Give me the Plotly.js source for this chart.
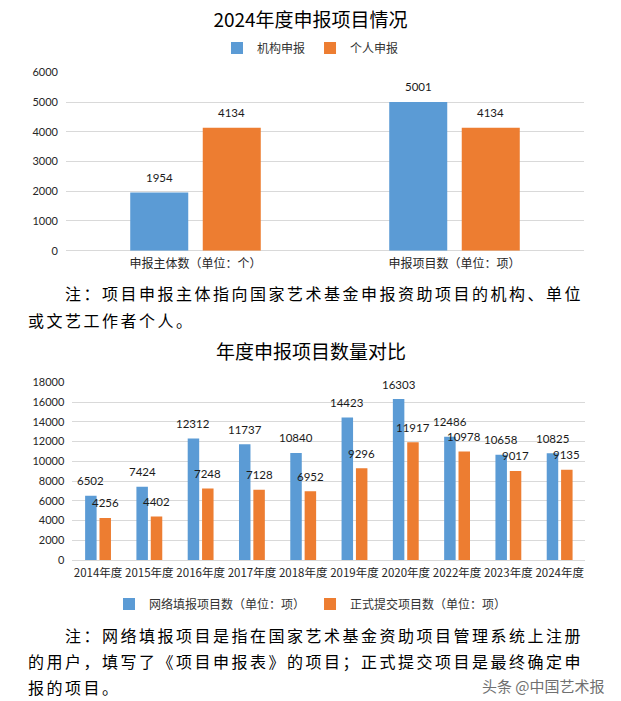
<!DOCTYPE html>
<html>
<head>
<meta charset="utf-8">
<script src="https://cdn.plot.ly/plotly-3.0.1.min.js"></script>
<style>
html,body{margin:0;padding:0;background:#fff;}
#chart{width:621px;height:701px;}
.annotation[data-index="0"] text,
.annotation[data-index="1"] text,
.annotation[data-index="2"] text,
.annotation[data-index="3"] text,
.annotation[data-index="4"] text{letter-spacing:2.5px;}
</style>
</head>
<body>
<div id="chart"></div>
<script>
// ---- Chart 1 data ----
const title1 = '2024年度申报项目情况';
const cats1 = ['申报主体数（单位：个）', '申报项目数（单位：项）'];
const seriesNames1 = ['机构申报', '个人申报'];
const orgValues1 = [1954, 5001];
const indValues1 = [4134, 4134];
const yTicks1 = [0, 1000, 2000, 3000, 4000, 5000, 6000];

// ---- Chart 2 data ----
const title2 = '年度申报项目数量对比';
const years2 = ['2014年度', '2015年度', '2016年度', '2017年度', '2018年度', '2019年度', '2020年度', '2022年度', '2023年度', '2024年度'];
const seriesNames2 = ['网络填报项目数（单位：项）', '正式提交项目数（单位：项）'];
const onlineValues2 = [6502, 7424, 12312, 11737, 10840, 14423, 16303, 12486, 10658, 10825];
const submittedValues2 = [4256, 4402, 7248, 7128, 6952, 9296, 11917, 10978, 9017, 9135];
const yTicks2 = [0, 2000, 4000, 6000, 8000, 10000, 12000, 14000, 16000, 18000];

// ---- Text ----
const note1Lines = ['　　注：项目申报主体指向国家艺术基金申报资助项目的机构、单位', '或文艺工作者个人。'];
const note2Lines = ['　　注：网络填报项目是指在国家艺术基金资助项目管理系统上注册', '的用户，填写了《项目申报表》的项目；正式提交项目是最终确定申', '报的项目。'];
const watermark = '头条 @中国艺术报';

const BLUE = '#5B9BD5', ORANGE = '#ED7D31';
const CJK = '"Noto Sans CJK SC", sans-serif';
const NUM = 'Lato, "Noto Sans CJK SC", sans-serif';
const H = 701;
const py = p => 1 - p / H;

const traces = [
  {type:'bar', name:seriesNames1[0], x:cats1, y:orgValues1, xaxis:'x', yaxis:'y', marker:{color:BLUE}, legend:'legend', hoverinfo:'x+y'},
  {type:'bar', name:seriesNames1[1], x:cats1, y:indValues1, xaxis:'x', yaxis:'y', marker:{color:ORANGE}, legend:'legend', hoverinfo:'x+y'},
  {type:'bar', name:seriesNames2[0], x:years2, y:onlineValues2, xaxis:'x2', yaxis:'y2', marker:{color:BLUE}, legend:'legend2', hoverinfo:'x+y'},
  {type:'bar', name:seriesNames2[1], x:years2, y:submittedValues2, xaxis:'x2', yaxis:'y2', marker:{color:ORANGE}, legend:'legend2', hoverinfo:'x+y'}
];

const annotations = [];
// notes (indices 0..4) – letter-spaced by CSS
note1Lines.forEach((t, i) => annotations.push({
  xref:'paper', yref:'paper', x:26/621, y:py(293 + i*26.7), xanchor:'left', yanchor:'middle',
  text:t, showarrow:false, align:'left', font:{family:CJK, size:16, color:'#000'}
}));
note2Lines.forEach((t, i) => annotations.push({
  xref:'paper', yref:'paper', x:26/621, y:py(635 + i*26), xanchor:'left', yanchor:'middle',
  text:t, showarrow:false, align:'left', font:{family:CJK, size:16, color:'#000'}
}));
// watermark
annotations.push({xref:'paper', yref:'paper', x:607/621, y:py(685), xanchor:'right', yanchor:'middle',
  text:watermark, showarrow:false, font:{family:CJK, size:15, color:'#707070'}});
// chart 2 title
annotations.push({xref:'paper', yref:'paper', x:0.5, y:py(350), xanchor:'center', yanchor:'middle',
  text:title2, showarrow:false, font:{family:CJK, size:19, color:'#000'}});

// data labels
function addLabels(cats, vals, xr, yr, shift) {
  cats.forEach((c, i) => annotations.push({
    xref:xr, yref:yr, x:c, y:vals[i], text:String(vals[i]), showarrow:false,
    xanchor:'center', yanchor:'middle', xshift:shift, yshift:15,
    font:{family:NUM, size:11.5, color:'#1a1a1a'}
  }));
}
addLabels(cats1, orgValues1, 'x', 'y', -36.3);
addLabels(cats1, indValues1, 'x', 'y', 36.3);
addLabels(years2, onlineValues2, 'x2', 'y2', -7.2);
addLabels(years2, submittedValues2, 'x2', 'y2', 7.2);

const yAxisCommon = {
  showgrid:true, gridcolor:'#d9d9d9', gridwidth:1, zeroline:true, zerolinecolor:'#d9d9d9', zerolinewidth:1,
  showline:false, ticks:'', ticklabelstandoff:7, tickformat:'d',
  tickfont:{family:NUM, size:11, color:'#262626'}, fixedrange:true
};
const xAxisCommon = {
  type:'category', showgrid:false, zeroline:false, showline:false, ticks:'', ticklabelstandoff:4, tickangle:0,
  tickfont:{family:CJK, size:12, color:'#262626'}, fixedrange:true
};

const layout = {
  width:621, height:701, margin:{l:0, r:0, t:0, b:0},
  paper_bgcolor:'#fff', plot_bgcolor:'#fff',
  barmode:'group', bargap:0.44, bargroupgap:0.2,
  font:{family:NUM, size:11, color:'#262626'},
  title:{text:title1, x:0.5, xanchor:'center', xref:'paper', y:py(20), yref:'paper', yanchor:'middle',
         font:{family:CJK, size:19, color:'#000'}},
  xaxis:Object.assign({}, xAxisCommon, {domain:[66/621, 584/621], anchor:'y'}),
  yaxis:Object.assign({}, yAxisCommon, {domain:[py(250.7), py(72.3)], anchor:'x', range:[0, 6000], tickvals:yTicks1}),
  xaxis2:Object.assign({}, xAxisCommon, {domain:[72.4/621, 585.3/621], anchor:'y2',
          tickfont:{family:CJK, size:11.5, color:'#262626'}}),
  yaxis2:Object.assign({}, yAxisCommon, {domain:[py(560), py(382.3)], anchor:'x2', range:[0, 18000], tickvals:yTicks2}),
  showlegend:true,
  legend:{orientation:'h', x:0.5, xanchor:'center', y:py(48), yanchor:'middle', xref:'paper', yref:'paper',
          font:{family:CJK, size:12, color:'#333'}, bgcolor:'rgba(0,0,0,0)', traceorder:'normal'},
  legend2:{orientation:'h', x:0.5, xanchor:'center', y:py(604), yanchor:'middle', xref:'paper', yref:'paper',
          font:{family:CJK, size:12, color:'#333'}, bgcolor:'rgba(0,0,0,0)', traceorder:'normal'},
  annotations:annotations
};

Plotly.newPlot('chart', traces, layout, {displayModeBar:false, staticPlot:true});
</script>
</body>
</html>
